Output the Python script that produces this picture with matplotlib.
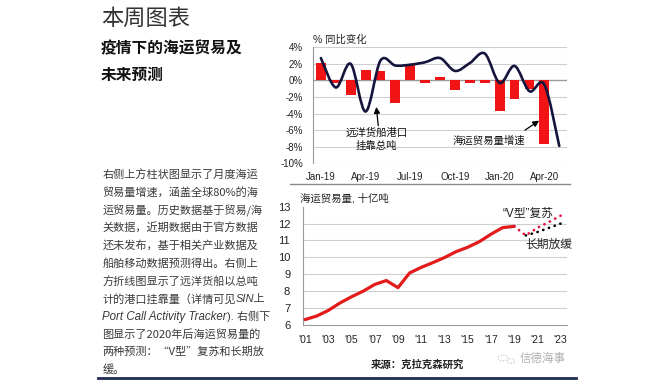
import matplotlib
matplotlib.use("Agg")
import matplotlib.pyplot as plt
import numpy as np
from matplotlib.path import Path
from matplotlib.patches import PathPatch, Circle
from matplotlib.lines import Line2D

# ---------------- data ----------------
months = ["Jan-19", "Feb-19", "Mar-19", "Apr-19", "May-19", "Jun-19", "Jul-19", "Aug-19",
          "Sep-19", "Oct-19", "Nov-19", "Dec-19", "Jan-20", "Feb-20", "Mar-20", "Apr-20", "May-20"]
trade_growth = [2.1, -0.3, -1.8, 1.3, 1.1, -2.7, 2.0, -0.3, 0.4, -1.2, -0.3, -0.35,
                -3.65, -2.25, -1.05, -7.65]            # Jan-19 .. Apr-20
port_calls = [2.7, -0.85, 2.0, -3.75, 2.4, 1.8, 1.9, 2.2, 2.7, 1.15, 2.1, 3.25,
              -0.3, 1.75, -1.3, -0.5, -7.9]            # Jan-19 .. May-20
top_ticks = ["Jan-19", "Apr-19", "Jul-19", "Oct-19", "Jan-20", "Apr-20"]
top_yticks = [4, 2, 0, -2, -4, -6, -8, -10]

years = list(range(2001, 2020))
volume = [6.32, 6.53, 6.86, 7.3, 7.67, 8.0, 8.4, 8.63, 8.21, 9.08, 9.41, 9.69,
          9.99, 10.34, 10.6, 10.93, 11.37, 11.76, 11.84]
v_years = [2019, 2020, 2021, 2022, 2023]
v_volume = [11.84, 11.3, 11.75, 12.1, 12.47]
slow_years = [2020, 2021, 2022, 2023]
slow_volume = [11.3, 11.5, 11.75, 12.0]
bottom_xticks = [2001, 2003, 2005, 2007, 2009, 2011, 2013, 2015, 2017, 2019, 2021, 2023]
bottom_xlabels = ["'01", "'03", "'05", "'07", "'09", "'11", "'13", "'15", "'17", "'19", "'21", "'23"]
bottom_yticks = [6, 7, 8, 9, 10, 11, 12, 13]

paragraph = [
    "右侧上方柱状图显示了月度海运",
    "贸易量增速，涵盖全球80%的海",
    "运贸易量。历史数据基于贸易/海",
    "关数据，近期数据由于官方数据",
    "还未发布，基于相关产业数据及",
    "船舶移动数据预测得出。右侧上",
    "方折线图显示了远洋货船以总吨",
    None,
    None,
    "图显示了2020年后海运贸易量的",
    "两种预测：“V型”复苏和长期放",
    "缓。",
]

# ---------------- style ----------------
CJK = ["Noto Sans CJK SC", "DejaVu Sans"]
LAT = ["Liberation Sans", "Noto Sans CJK SC", "DejaVu Sans"]
plt.rcParams["font.family"] = LAT
GRID = "#cfcfcf"
RED = "#f01414"
NAVY = "#14143c"

W, H = 670, 380
fig = plt.figure(figsize=(W / 100, H / 100), dpi=100)
fig.patch.set_facecolor("white")


def fx(x):
    return x / W


def fy(y):
    return 1 - y / H


# ---------------- left texts ----------------
fig.text(fx(101), fy(18), "本周图表", family=CJK, fontsize=16, weight="light",
         color="#333333", va="center", ha="left")
fig.text(fx(101), fy(48), "疫情下的海运贸易及", family=CJK, fontsize=11.3, weight="bold",
         color="#111111", va="center", ha="left")
fig.text(fx(101), fy(75), "未来预测", family=CJK, fontsize=11.3, weight="bold",
         color="#111111", va="center", ha="left")

PCOL = "#3a3a3a"
PFS = 8
x0 = 102.5
line_y = [175 + i * 17.7 for i in range(len(paragraph))]
renderer = fig.canvas.get_renderer()
for i, s in enumerate(paragraph):
    if s is not None:
        fig.text(fx(x0), fy(line_y[i]), s, family=CJK, fontsize=PFS, color=PCOL,
                 va="center", ha="left")

# line 8: mixed normal + italic
t1 = fig.text(fx(x0), fy(line_y[7]), "计的港口挂靠量（详情可见", family=CJK, fontsize=PFS,
              color=PCOL, va="center", ha="left")
bb = t1.get_window_extent(renderer)
fig.text(bb.x1 / W, fy(line_y[7]), "SIN上", family=LAT, fontsize=PFS, color=PCOL,
         style="italic", va="center", ha="left")
# line 9
t2 = fig.text(fx(x0), fy(line_y[8]), "Port Call Activity Tracker", family=LAT, fontsize=PFS + 0.3,
              color=PCOL, style="italic", va="center", ha="left")
bb = t2.get_window_extent(renderer)
fig.text(bb.x1 / W, fy(line_y[8]), "). 右侧下", family=LAT, fontsize=PFS, color=PCOL,
         va="center", ha="left")

# ---------------- top chart ----------------
ax1 = fig.add_axes([fx(312.7), fy(163.3), fx(566.7) - fx(312.7), fy(47.3) - fy(163.3)])
xb = np.arange(len(trade_growth))
ax1.bar(xb, trade_growth, width=0.66, color=RED, zorder=2)

# smooth line (Bezier path through the monthly points)
pts = np.column_stack([np.arange(len(port_calls)), port_calls]).astype(float)
n = len(pts)
verts = [tuple(pts[0])]
codes = [Path.MOVETO]
for i in range(n - 1):
    p0 = pts[max(i - 1, 0)]
    p1 = pts[i]
    p2 = pts[i + 1]
    p3 = pts[min(i + 2, n - 1)]
    c1 = p1 + (p2 - p0) / 6.0
    c2 = p2 - (p3 - p1) / 6.0
    verts += [tuple(c1), tuple(c2), tuple(p2)]
    codes += [Path.CURVE4] * 3
ax1.add_patch(PathPatch(Path(verts, codes), fill=False, edgecolor=NAVY, lw=1.9,
                        capstyle="round", joinstyle="round", zorder=3))

ax1.set_xlim(-0.55, 16.5)
ax1.set_ylim(-10, 4)
ax1.set_yticks(top_yticks)
ax1.set_yticklabels([f"{v}%" for v in top_yticks])
ax1.set_xticks([months.index(m) for m in top_ticks])
ax1.set_xticklabels(top_ticks)
ax1.tick_params(length=0, labelsize=7, colors="#222222")
ax1.tick_params(axis="y", pad=7)
ax1.tick_params(axis="x", pad=6)
for yv in top_yticks:
    ax1.axhline(yv, color=GRID if yv != 0 else "#9a9a9a", lw=0.8 if yv != 0 else 1.0, zorder=1)
for sp in ["top", "right", "bottom"]:
    ax1.spines[sp].set_visible(False)
ax1.spines["left"].set_color("#9a9a9a")
ax1.spines["left"].set_linewidth(0.8)
ax1.set_facecolor("white")

ax1.text(0.0, 1.025, "% 同比变化", transform=ax1.transAxes, fontsize=7.5, color="#222222",
         ha="left", va="bottom")
ax1.text(3.75, -6.35, "远洋货船港口", family=CJK, fontsize=7.5, color="#111111",
         ha="center", va="center", zorder=4)
ax1.text(3.75, -7.9, "挂靠总吨", family=CJK, fontsize=7.5, color="#111111",
         ha="center", va="center", zorder=4)
arrow_kw = dict(arrowstyle="-|>", color="black", lw=0.9, mutation_scale=9,
                shrinkA=0, shrinkB=0)
ax1.annotate("", xy=(3.72, -3.2), xytext=(3.85, -5.45), arrowprops=arrow_kw, zorder=5)
ax1.text(11.3, -7.3, "海运贸易量增速", family=CJK, fontsize=7.5, color="#111111",
         ha="center", va="center", zorder=4)
ax1.annotate("", xy=(14.65, -4.85), xytext=(13.7, -6.0), arrowprops=arrow_kw, zorder=5)

# separator
fig.add_artist(Line2D([fx(290), fx(570)], [fy(184), fy(184)], color="#8a8a8a", lw=1.0))

# ---------------- bottom chart ----------------
ax2 = fig.add_axes([fx(302.7), fy(325), fx(566.7) - fx(302.7), fy(206.7) - fy(325)])
ax2.plot(years, volume, color="#e31b1b", lw=2.3, solid_capstyle="round", zorder=3)
ax2.plot(slow_years, slow_volume, color="black", lw=1.9, linestyle=(0, (0.1, 2.2)),
         dash_capstyle="round", zorder=3)
ax2.plot(v_years, v_volume, color="#e3143c", lw=1.9, linestyle=(0, (0.1, 2.2)),
         dash_capstyle="round", zorder=4)
ax2.set_xlim(2000.8, 2023.52)
ax2.set_ylim(6, 13)
ax2.set_xticks(bottom_xticks)
ax2.set_xticklabels(bottom_xlabels)
ax2.set_yticks(bottom_yticks)
ax2.tick_params(length=0, colors="#222222")
ax2.tick_params(axis="y", labelsize=8, pad=9)
ax2.tick_params(axis="x", labelsize=7.5, pad=7)
for yv in bottom_yticks[1:-1]:
    ax2.axhline(yv, color=GRID, lw=0.8, zorder=1)
for sp in ["top", "right"]:
    ax2.spines[sp].set_visible(False)
for sp in ["left", "bottom"]:
    ax2.spines[sp].set_color("#9a9a9a")
    ax2.spines[sp].set_linewidth(0.8)

ax2.text(-0.01, 1.03, "海运贸易量, 十亿吨", transform=ax2.transAxes, fontsize=7.5,
         color="#222222", ha="left", va="bottom")
ax2.text(2020.2, 12.6, "“V型”复苏", fontsize=8.5, color="#222222", ha="center", va="center")
ax2.text(2022.0, 10.75, "长期放缓", family=CJK, fontsize=8.5, color="#222222",
         ha="center", va="center", clip_on=False)

# ---------------- footer ----------------
fig.text(fx(417), fy(365), "来源：克拉克森研究", family=CJK, fontsize=7.5, weight="bold",
         color="#222222", ha="center", va="center")
fig.text(fx(520), fy(358), "信德海事", family=CJK, fontsize=8.3, color="#b0b0b0",
         ha="left", va="center")
for cx, cy, r in [(503, 358, 5), (511, 361, 4)]:
    fig.add_artist(Circle((fx(cx), fy(cy)), r / W, transform=fig.transFigure, fill=False,
                          edgecolor="#c0c0c0", lw=0.8, linestyle=(0, (1, 1.5))))
fig.add_artist(Line2D([fx(98), fx(576)], [fy(378), fy(378)], color="#1f2a55", lw=2.0))

fig.savefig("out.png", dpi=100, facecolor="white")
